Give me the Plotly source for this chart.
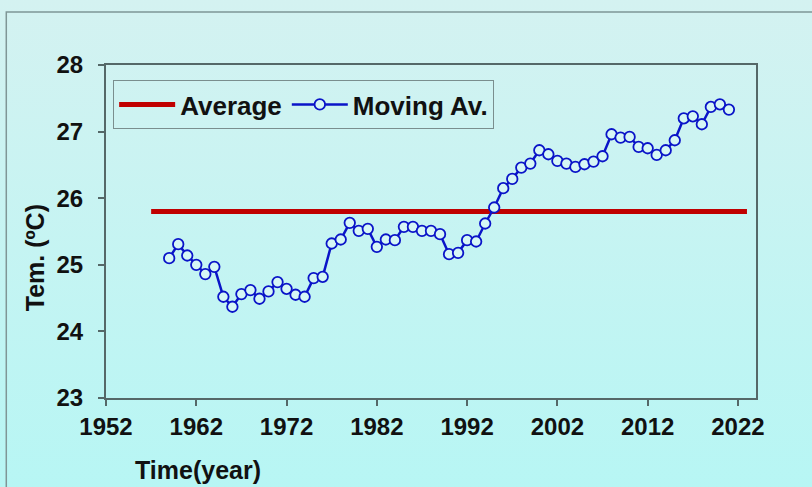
import plotly.graph_objects as go

# moving average of temperature, one point per year
years = list(range(1959, 2022))
moving_av = [
    25.10, 25.31, 25.14, 25.00, 24.86, 24.97, 24.52, 24.37, 24.56, 24.62,
    24.49, 24.60, 24.74, 24.64, 24.55, 24.52, 24.80, 24.82, 25.32, 25.38,
    25.63, 25.51, 25.54, 25.27, 25.38, 25.37, 25.57, 25.57, 25.51, 25.51,
    25.46, 25.16, 25.18, 25.37, 25.35, 25.62, 25.86, 26.15, 26.29, 26.46,
    26.52, 26.72, 26.66, 26.56, 26.52, 26.47, 26.51, 26.55, 26.63, 26.96,
    26.91, 26.92, 26.77, 26.75, 26.65, 26.72, 26.87, 27.20, 27.23, 27.11,
    27.37, 27.41, 27.33,
]

# long term average line
avg_years = [1957, 2023]
avg_values = [25.8, 25.8]

x_ticks = [1952, 1962, 1972, 1982, 1992, 2002, 2012, 2022]
y_ticks = [23, 24, 25, 26, 27, 28]

FONT = "Liberation Sans, Arial, sans-serif"
AXIS_COL = "#556868"

bg_svg = (
    "data:image/svg+xml;utf8,"
    "<svg xmlns='http://www.w3.org/2000/svg' width='10' height='100' preserveAspectRatio='none'>"
    "<defs><linearGradient id='g' x1='0' y1='0' x2='0' y2='1'>"
    "<stop offset='0' stop-color='%23d4f2f1'/><stop offset='1' stop-color='%23b7f6f4'/>"
    "</linearGradient></defs><rect width='10' height='100' fill='url(%23g)'/></svg>"
)

fig = go.Figure()

fig.add_trace(go.Scatter(
    x=avg_years, y=avg_values,
    mode="lines",
    name="Average",
    line=dict(color="#c00000", width=5),
))

fig.add_trace(go.Scatter(
    x=years, y=moving_av,
    mode="lines+markers",
    name="Moving Av.",
    line=dict(color="#0a14c8", width=2.5),
    marker=dict(symbol="circle", size=10.5, color="#d6f7f5",
                line=dict(color="#0a14c8", width=1.8)),
))

fig.update_layout(
    width=812, height=487,
    margin=dict(l=106, r=56, t=65, b=89),
    paper_bgcolor="#c6f3f1",
    plot_bgcolor="rgba(0,0,0,0)",
    font=dict(family=FONT, size=24, color="#111111"),
    showlegend=True,
    legend=dict(
        orientation="h",
        x=0.011, y=0.955, xanchor="left", yanchor="top",
        bgcolor="rgba(0,0,0,0)",
        bordercolor="#7a8e8e", borderwidth=1,
        font=dict(family=FONT, size=26, color="#111111", weight="bold"),
        itemwidth=56,
    ),
    images=[dict(
        source=bg_svg, xref="paper", yref="paper",
        x=-0.17, y=1.2, sizex=1.27, sizey=1.47,
        sizing="stretch", layer="below",
    )],
    shapes=[dict(
        type="rect", xref="paper", yref="paper",
        x0=-0.1534, y0=-0.4, x1=1.3, y1=1.159,
        line=dict(color="#7f9696", width=1.5),
    )],
    annotations=[
        dict(text="<b>Tem. (ºC)</b>", xref="paper", yref="paper",
             x=-0.109, y=0.42, textangle=-90, showarrow=False,
             xanchor="center", yanchor="middle",
             font=dict(family=FONT, size=25, color="#111111")),
        dict(text="<b>Time(year)</b>", xref="paper", yref="paper",
             x=0.142, y=-0.215, showarrow=False,
             xanchor="center", yanchor="middle",
             font=dict(family=FONT, size=25, color="#111111")),
    ],
)

fig.update_xaxes(
    range=[1952, 2024],
    tickvals=x_ticks,
    ticks="outside", ticklen=6, tickwidth=1.5, tickcolor=AXIS_COL,
    showline=True, linecolor=AXIS_COL, linewidth=2, mirror=True,
    showgrid=False, zeroline=False,
    tickfont=dict(family=FONT, size=24, color="#111111", weight="bold"),
)
fig.update_yaxes(
    range=[23, 28],
    tickvals=y_ticks,
    ticks="outside", ticklen=6, tickwidth=1.5, tickcolor=AXIS_COL,
    showline=True, linecolor=AXIS_COL, linewidth=2, mirror=True,
    showgrid=False, zeroline=False,
    ticklabelstandoff=10,
    tickfont=dict(family=FONT, size=24, color="#111111", weight="bold"),
)

fig.write_html("out.html", config={"displayModeBar": False},
               post_script="document.body.style.margin='0';")
